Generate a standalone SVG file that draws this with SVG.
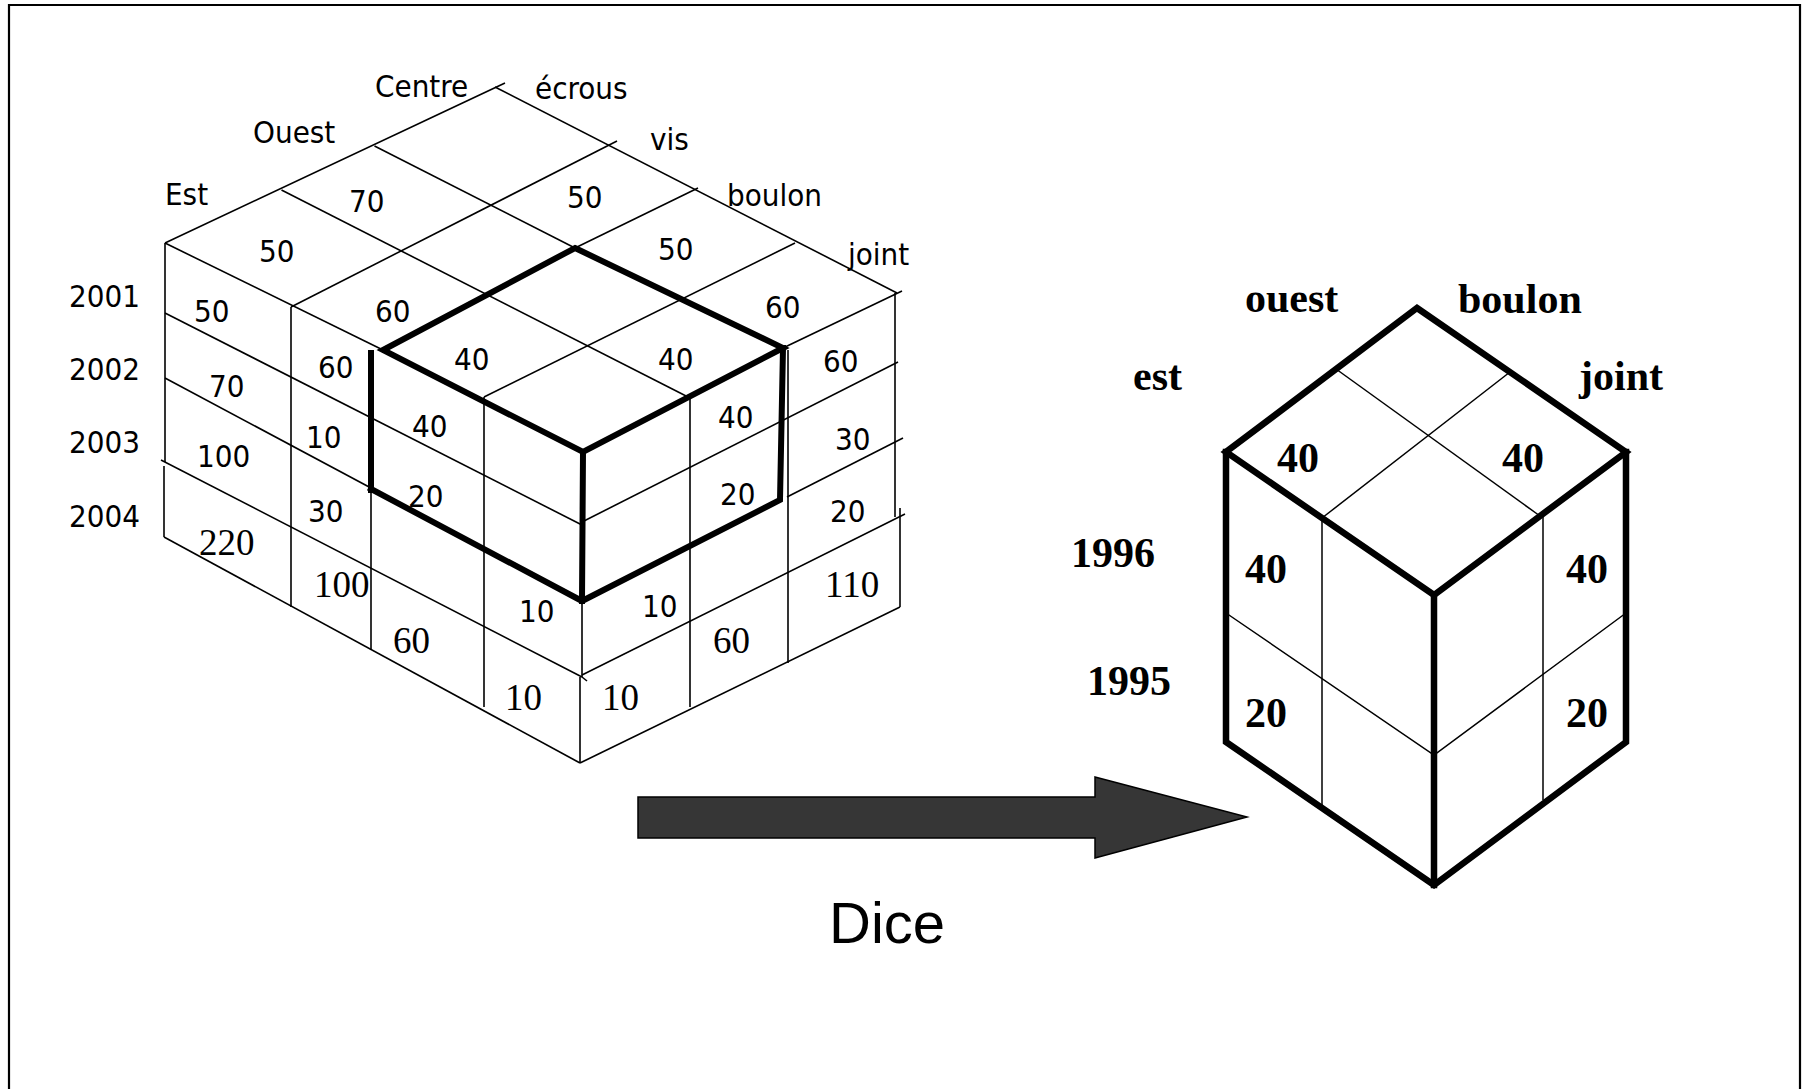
<svg xmlns="http://www.w3.org/2000/svg" width="1806" height="1089" viewBox="0 0 1806 1089">
<style>
.thin{stroke:#000;stroke-width:1.6;fill:none;stroke-linecap:butt}
.thick{stroke:#000;stroke-width:6;fill:none;stroke-linejoin:miter;stroke-linecap:square}
.rthin{stroke:#000;stroke-width:1.5;fill:none}
.rthick{stroke:#000;stroke-width:6.5;fill:none;stroke-linejoin:miter;stroke-linecap:square}
.s{font-family:'DejaVu Sans Condensed','DejaVu Sans',sans-serif;font-stretch:condensed;font-size:31px;fill:#000}
.n{font-family:'Liberation Serif','Times New Roman',serif;font-size:37px;fill:#000}
.b{font-family:'Liberation Serif','Times New Roman',serif;font-weight:bold;font-size:42px;fill:#000}
.d{font-family:'Liberation Sans',Arial,sans-serif;font-size:58px;fill:#000}
</style>
<rect width="1806" height="1089" fill="#fff"/>
<path id="frame" d="M9,1089 V5 H1800 V1089" fill="none" stroke="#000" stroke-width="2.2"/>

<g id="source-cube">
  <g id="grid" class="thin">
    <!-- top face -->
    <line x1="165" y1="243" x2="505" y2="83"/>
    <line x1="495" y1="87" x2="897" y2="293"/>
    <line x1="617" y1="141" x2="291" y2="307"/>
    <line x1="698" y1="188" x2="575" y2="248"/>
    <line x1="795" y1="243" x2="484" y2="397"/>
    <line x1="374.5" y1="146" x2="575" y2="248"/>
    <line x1="281.5" y1="190" x2="690" y2="398"/>
    <line x1="165" y1="243" x2="383" y2="350"/>
    <line x1="902" y1="291" x2="783" y2="348"/>
    <!-- front-left face -->
    <line x1="165" y1="243" x2="165" y2="462"/>
    <line x1="164" y1="466" x2="164" y2="537"/>
    <line x1="165" y1="313" x2="582" y2="525"/>
    <line x1="165" y1="378" x2="371" y2="488"/>
    <line x1="161" y1="460" x2="582" y2="677"/>
    <line x1="164" y1="537" x2="580" y2="763"/>
    <line x1="291" y1="307" x2="291" y2="607"/>
    <line x1="371" y1="490" x2="371" y2="650"/>
    <line x1="484" y1="397" x2="484" y2="707"/>
    <line x1="582" y1="600" x2="582" y2="677"/>
    <line x1="582" y1="677" x2="587" y2="681"/>
    <line x1="580" y1="677" x2="580" y2="763"/>
    <!-- right face -->
    <line x1="690" y1="398" x2="690" y2="707"/>
    <line x1="788" y1="350" x2="788" y2="663"/>
    <line x1="895" y1="293" x2="895" y2="517"/>
    <line x1="900" y1="508" x2="900" y2="607"/>
    <line x1="582" y1="522" x2="898" y2="362"/>
    <line x1="787" y1="497" x2="903" y2="438"/>
    <line x1="582" y1="675" x2="905" y2="514"/>
    <line x1="580" y1="763" x2="900" y2="607"/>
  </g>
  <g id="dice-box" class="thick">
    <polygon points="575,248 783,348 583,452 383,350"/>
    <line x1="371" y1="353" x2="371" y2="490"/>
    <polyline points="371,489 582,601 780,500 783,348"/>
    <line x1="583" y1="452" x2="582" y2="601"/>
  </g>
  <g id="source-labels">
    <text class="s" x="375" y="97">Centre</text>
    <text class="s" x="535" y="99">écrous</text>
    <text class="s" x="253" y="143">Ouest</text>
    <text class="s" x="650" y="150">vis</text>
    <text class="s" x="165" y="205">Est</text>
    <text class="s" x="727" y="206">boulon</text>
    <text class="s" x="848" y="265">joint</text>
    <text class="s" x="69" y="307">2001</text>
    <text class="s" x="69" y="380">2002</text>
    <text class="s" x="69" y="453">2003</text>
    <text class="s" x="69" y="527">2004</text>
    <text class="s" x="349" y="212">70</text>
    <text class="s" x="567" y="208">50</text>
    <text class="s" x="259" y="262">50</text>
    <text class="s" x="658" y="260">50</text>
    <text class="s" x="194" y="322">50</text>
    <text class="s" x="375" y="322">60</text>
    <text class="s" x="765" y="318">60</text>
    <text class="s" x="209" y="397">70</text>
    <text class="s" x="318" y="378">60</text>
    <text class="s" x="454" y="370">40</text>
    <text class="s" x="658" y="370">40</text>
    <text class="s" x="823" y="372">60</text>
    <text class="s" x="412" y="437">40</text>
    <text class="s" x="718" y="428">40</text>
    <text class="s" x="306" y="448">10</text>
    <text class="s" x="197" y="467">100</text>
    <text class="s" x="835" y="450">30</text>
    <text class="s" x="408" y="507">20</text>
    <text class="s" x="720" y="505">20</text>
    <text class="s" x="308" y="522">30</text>
    <text class="s" x="830" y="522">20</text>
    <text class="s" x="519" y="622">10</text>
    <text class="s" x="642" y="617">10</text>
    <text class="n" x="199" y="555">220</text>
    <text class="n" x="314" y="597">100</text>
    <text class="n" x="825" y="597">110</text>
    <text class="n" x="393" y="653">60</text>
    <text class="n" x="713" y="653">60</text>
    <text class="n" x="505" y="710">10</text>
    <text class="n" x="602" y="710">10</text>
  </g>
</g>

<g id="connectors">
  <polygon id="dice-arrow" points="638,797 1095,797 1095,777 1247,817 1095,858 1095,838 638,838" fill="#363636" stroke="#000" stroke-width="1.5"/>
</g>
<g id="dice-label">
  <text class="d" x="829" y="943">Dice</text>
</g>

<g id="result-cube">
  <g class="rthin">
    <line x1="1336" y1="369" x2="1540" y2="516"/>
    <line x1="1510" y1="372" x2="1322" y2="518"/>
    <line x1="1322" y1="518" x2="1322" y2="806"/>
    <line x1="1543" y1="516" x2="1543" y2="800"/>
    <polyline points="1226,613 1434,755 1626,613"/>
  </g>
  <g class="rthick">
    <polygon points="1417,308 1626,452 1434,595 1226,452"/>
    <polyline points="1226,452 1226,742 1434,885 1626,742 1626,452"/>
    <line x1="1434" y1="595" x2="1434" y2="885"/>
  </g>
  <g id="result-labels">
    <text class="b" x="1245" y="312">ouest</text>
    <text class="b" x="1458" y="313">boulon</text>
    <text class="b" x="1133" y="390">est</text>
    <text class="b" x="1579" y="390">joint</text>
    <text class="b" x="1277" y="472">40</text>
    <text class="b" x="1502" y="472">40</text>
    <text class="b" x="1071" y="567">1996</text>
    <text class="b" x="1245" y="583">40</text>
    <text class="b" x="1566" y="583">40</text>
    <text class="b" x="1087" y="695">1995</text>
    <text class="b" x="1245" y="727">20</text>
    <text class="b" x="1566" y="727">20</text>
  </g>
</g>
</svg>
